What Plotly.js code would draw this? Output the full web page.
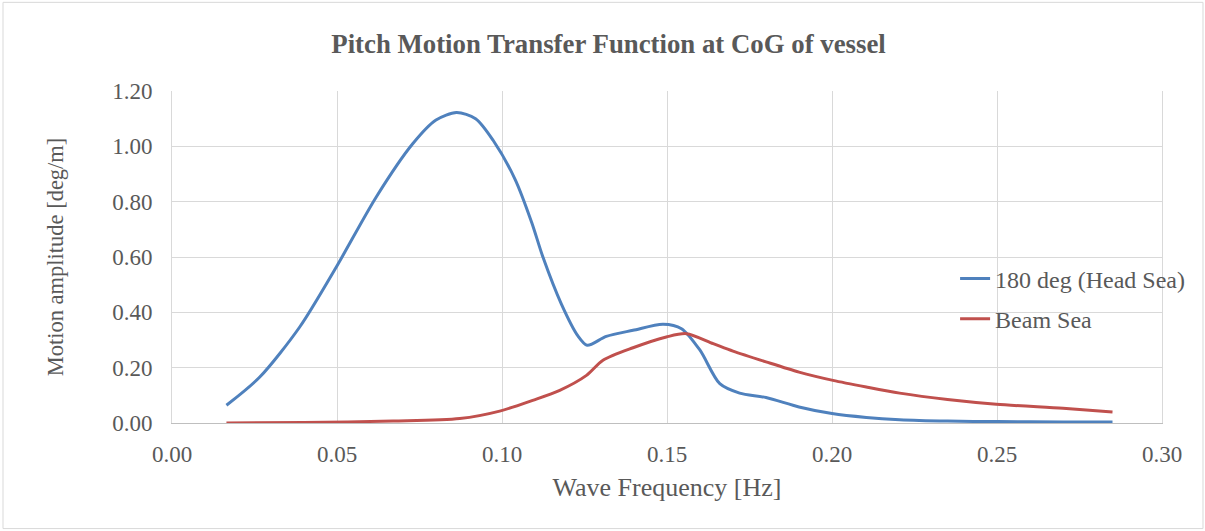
<!DOCTYPE html>
<html>
<head>
<meta charset="utf-8">
<script src="https://cdn.plot.ly/plotly-3.0.1.min.js"></script>
<style>
html,body{margin:0;padding:0;background:#fff;}
#chart{width:1205px;height:531px;}
</style>
</head>
<body>
<div id="chart"></div>
<script>
const headFreq = [0.0165,0.0266,0.0387,0.0498,0.0619,0.073,0.0800,0.0862,0.0920,0.0973,0.1040,0.1090,0.1124,0.1180,0.1230,0.1258,0.1316,0.1397,0.1488,0.1544,0.1600,0.1660,0.1720,0.1800,0.1900,0.2000,0.2104,0.2205,0.2350,0.2500,0.2700,0.2850];
const headAmp  = [0.064,0.166,0.347,0.564,0.817,1.010,1.095,1.122,1.100,1.022,0.880,0.725,0.600,0.430,0.315,0.281,0.313,0.335,0.357,0.341,0.263,0.142,0.108,0.092,0.058,0.034,0.020,0.012,0.007,0.005,0.004,0.004];
const beamFreq = [0.0165,0.0400,0.0670,0.0872,0.0993,0.1093,0.1175,0.1256,0.1306,0.1397,0.1498,0.1559,0.1640,0.1700,0.1800,0.1900,0.2003,0.2104,0.2205,0.2350,0.2498,0.2700,0.2850];
const beamAmp  = [0.000,0.002,0.007,0.016,0.043,0.082,0.118,0.172,0.227,0.272,0.311,0.323,0.287,0.260,0.221,0.184,0.154,0.130,0.108,0.085,0.068,0.053,0.040];
const seriesNames = ["180 deg (Head Sea)","Beam Sea"];

const font = "Liberation Serif, Times New Roman, serif";
const grey = "#595959";

const traces = [
  {x: headFreq, y: headAmp, name: seriesNames[0], legendgroup: "a", type: "scatter", mode: "lines",
   line: {color: "#4f81bd", width: 3, shape: "spline", smoothing: 0.8}},
  {x: beamFreq, y: beamAmp, name: seriesNames[1], legendgroup: "b", type: "scatter", mode: "lines",
   line: {color: "#c0504d", width: 3, shape: "spline", smoothing: 0.8}}
];

const layout = {
  width: 1205, height: 531,
  margin: {l: 172, r: 43, t: 91, b: 108, pad: 0},
  paper_bgcolor: "#fff", plot_bgcolor: "#fff",
  font: {family: font, color: grey, size: 23},
  title: {text: "<b>Pitch Motion Transfer Function at CoG of vessel</b>",
          font: {family: font, size: 26.8, color: grey}, x: 0.505, xanchor: "center", y: 0.917, yanchor: "middle"},
  xaxis: {range: [0, 0.3], dtick: 0.05, tick0: 0, tickformat: ".2f",
          showgrid: true, gridcolor: "#d9d9d9", gridwidth: 1, zeroline: false,
          showline: true, linecolor: "#bfbfbf", linewidth: 1, mirror: false,
          ticks: "outside", ticklen: 10, tickcolor: "rgba(0,0,0,0)", tickfont: {size: 23, color: grey, family: font},
          title: {text: "Wave Frequency [Hz]", font: {size: 26, color: grey, family: font}, standoff: 12}},
  yaxis: {range: [0, 1.2], dtick: 0.2, tick0: 0, tickformat: ".2f",
          showgrid: true, gridcolor: "#d9d9d9", gridwidth: 1, zeroline: false,
          showline: true, linecolor: "#d9d9d9", linewidth: 1, mirror: true,
          ticks: "outside", ticklen: 14, tickcolor: "rgba(0,0,0,0)", tickfont: {size: 23, color: grey, family: font},
          title: {text: "Motion amplitude [deg/m]", font: {size: 22.5, color: grey, family: font}, standoff: 42}},
  legend: {x: 0.791, xanchor: "left", y: 0.374, yanchor: "middle", bgcolor: "rgba(0,0,0,0)",
           font: {size: 24, color: grey, family: font}, tracegroupgap: 6, itemwidth: 30},
  showlegend: true,
  shapes: [
    {type: "rect", xref: "paper", yref: "paper", x0: -0.1707, x1: 1.0414, y0: -0.318, y1: 1.267,
     line: {color: "#d9d9d9", width: 1}, fillcolor: "rgba(0,0,0,0)", layer: "below"}
  ]
};

Plotly.newPlot("chart", traces, layout, {displayModeBar: false, staticPlot: true});
</script>
</body>
</html>
